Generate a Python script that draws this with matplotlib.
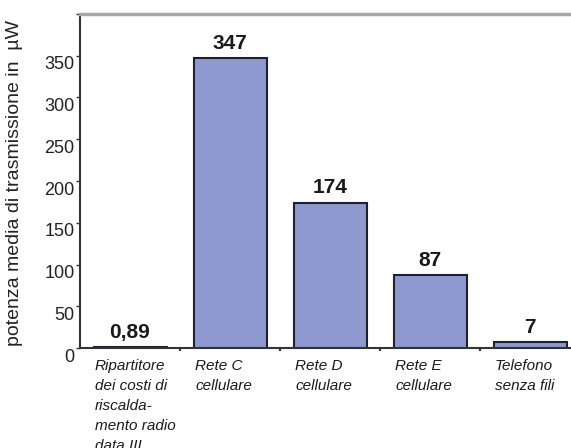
import matplotlib
matplotlib.use("Agg")
import matplotlib.pyplot as plt
import matplotlib.transforms as mtransforms
from matplotlib import font_manager

categories = ["Ripartitore\ndei costi di\nriscalda-\nmento radio\ndata III",
              "Rete C\ncellulare", "Rete D\ncellulare", "Rete E\ncellulare",
              "Telefono\nsenza fili"]
values = [0.89, 347, 174, 87, 7]
value_labels = ["0,89", "347", "174", "87", "7"]
yticks = [0, 50, 100, 150, 200, 250, 300, 350]

names = {f.name for f in font_manager.fontManager.ttflist}
narrow = "Liberation Sans Narrow" if "Liberation Sans Narrow" in names else "Liberation Sans"
plt.rcParams['font.family'] = ['Liberation Sans', 'DejaVu Sans']

fig = plt.figure(figsize=(5.71, 4.48), dpi=100)
ax = fig.add_axes([80/571, 1-348/448, 1-80/571, (348-14)/448])

x = list(range(len(values)))
ax.bar(x, values, width=0.73, color="#8e9acf", edgecolor="#1e2030", linewidth=1.5)
ax.set_xlim(-0.5, 4.41)
ax.set_ylim(0, 400)

ax.set_yticks(yticks + [400])
ax.set_yticklabels([str(t) for t in yticks] + [""], fontsize=13, color="#222222")
ax.set_xticks([0.5, 1.5, 2.5, 3.5])
ax.set_xticklabels([])
ax.tick_params(axis="y", direction="out", length=3, width=1, color="#333333", pad=1)
ax.tick_params(axis="x", direction="out", length=2, width=1.5, color="#333333")
offset = mtransforms.ScaledTranslation(0, -7/100, fig.dpi_scale_trans)
for lab in ax.get_yticklabels():
    lab.set_transform(lab.get_transform() + offset)

for s in ["left", "bottom"]:
    ax.spines[s].set_color("#333333")
    ax.spines[s].set_linewidth(1.5)
ax.spines["right"].set_visible(False)
ax.spines["top"].set_color("#a4a8b0")
ax.spines["top"].set_linewidth(2.5)

for xi, v, lab in zip(x, values, value_labels):
    ax.annotate(lab, (xi, v), xytext=(0, 4), textcoords="offset points",
                ha="center", va="bottom", fontsize=15, fontweight="bold", color="#1a1a1a")

for xi, cat in zip(x, categories):
    ax.annotate(cat, (xi - 0.35, 0), xytext=(0, -8), textcoords="offset points",
                ha="left", va="top", fontsize=11, fontstyle="italic",
                family=[narrow, "DejaVu Sans"], color="#1a1a1a", linespacing=1.55,
                annotation_clip=False)

fig.text(15/571, 1-183/448, "potenza media di trasmissione in  µW", rotation=90,
         ha="center", va="center", fontsize=14, color="#222222")

fig.savefig("out.png", dpi=100)
